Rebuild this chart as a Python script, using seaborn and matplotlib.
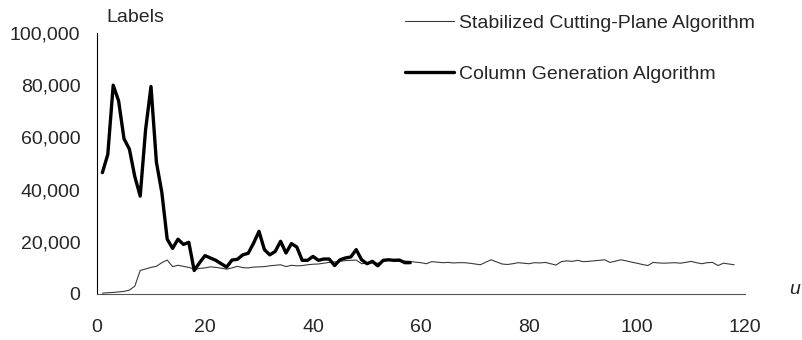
import numpy as np
import pandas as pd
import matplotlib
matplotlib.use("Agg")
import matplotlib.pyplot as plt
import seaborn as sns
from matplotlib.ticker import FuncFormatter

# Labels per iteration u (thousands)
stabilized_k = [
    0.3, 0.5, 0.6, 0.8, 1.0, 1.5, 3.0, 9.0, 9.6, 10.2,
    10.6, 12.0, 13.0, 10.5, 11.0, 10.6, 10.2, 9.5, 9.8, 10.0,
    10.4, 10.2, 9.9, 9.5, 10.0, 10.6, 10.1, 10.0, 10.3, 10.4,
    10.5, 10.8, 11.0, 11.2, 10.5, 11.0, 10.8, 10.9, 11.2, 11.4,
    11.5, 11.8, 12.1, 12.3, 12.5, 12.8, 12.9, 13.0, 11.6, 11.9,
    12.0, 11.8, 12.4, 13.1, 12.8, 12.5, 12.6, 12.5, 12.2, 12.0,
    11.6, 12.4, 12.2, 12.0, 12.1, 11.9, 12.0, 12.0, 11.8, 11.5,
    11.2, 12.2, 13.1, 12.3, 11.5, 11.3, 11.6, 12.0, 11.8, 11.6,
    12.0, 11.9, 12.1, 11.6, 11.1, 12.4, 12.7, 12.5, 12.9, 12.4,
    12.5, 12.7, 12.9, 13.1, 12.1, 12.6, 13.1, 12.7, 12.2, 11.8,
    11.3, 10.9, 12.1, 11.9, 11.8, 11.9, 12.0, 11.8, 12.1, 12.5,
    12.0, 11.6, 12.0, 12.1, 10.9, 11.8, 11.5, 11.2,
]
column_gen_k = [
    46.5, 53.5, 80.0, 74.0, 59.5, 55.5, 45.0, 37.5, 63.0, 79.5,
    50.5, 39.0, 21.0, 17.5, 21.0, 19.0, 19.8, 9.0, 12.0, 14.7,
    13.8, 12.9, 11.6, 10.3, 13.0, 13.3, 15.0, 15.6, 19.5, 24.0,
    17.0, 15.0, 16.3, 20.2, 15.7, 19.3, 18.0, 12.9, 12.9, 14.4,
    12.9, 13.4, 13.4, 10.9, 13.1, 13.8, 14.2, 17.0, 13.1, 11.6,
    12.5, 10.8, 12.9, 13.1, 12.9, 13.0, 12.0, 12.0,
]
series_names = ["Stabilized Cutting-Plane Algorithm", "Column Generation Algorithm"]
x_ticks = [0, 20, 40, 60, 80, 100, 120]
y_ticks = [0, 20000, 40000, 60000, 80000, 100000]

stab = pd.DataFrame({"u": np.arange(1, len(stabilized_k) + 1),
                     "labels": np.array(stabilized_k) * 1000})
colg = pd.DataFrame({"u": np.arange(1, len(column_gen_k) + 1),
                     "labels": np.array(column_gen_k) * 1000})

sns.set_style("white")
plt.rcParams["font.family"] = ["Liberation Sans", "DejaVu Sans"]

fig = plt.figure(figsize=(8.03, 3.40), dpi=100)
ax = fig.add_axes([97 / 803, 46 / 340, 648 / 803, 261 / 340])

sns.lineplot(data=stab, x="u", y="labels", ax=ax, color="#3a3a3a",
             linewidth=0.8, label=series_names[0])
sns.lineplot(data=colg, x="u", y="labels", ax=ax, color="black",
             linewidth=2.4, label=series_names[1])

ax.set_xlim(0, 120)
ax.set_ylim(0, 100000)
ax.set_xticks(x_ticks)
ax.set_yticks(y_ticks)
ax.yaxis.set_major_formatter(FuncFormatter(lambda v, p: f"{int(v):,}"))
ax.tick_params(axis="both", length=0, labelsize=14)
ax.tick_params(axis="x", pad=18)
ax.tick_params(axis="y", pad=12)
ax.set_xlabel("")
ax.set_ylabel("")

for side in ["top", "right"]:
    ax.spines[side].set_visible(False)
ax.spines["left"].set_color("black")
ax.spines["left"].set_linewidth(0.8)
ax.spines["bottom"].set_color("#555555")
ax.spines["bottom"].set_linewidth(0.8)

fig.text(106 / 803, 1 - 18 / 340, "Labels", fontsize=14, va="center", ha="left")
fig.text(795 / 803, 1 - 289 / 340, "u", fontsize=14, style="italic",
         va="center", ha="center")

ax.legend(loc="upper left", bbox_to_anchor=(405 / 803, 1 - 14 / 340),
          bbox_transform=fig.transFigure, frameon=False, fontsize=14,
          handlelength=2.5, handletextpad=0.3, labelspacing=1.75,
          borderpad=0, borderaxespad=0)

fig.savefig("out.png", dpi=100)
